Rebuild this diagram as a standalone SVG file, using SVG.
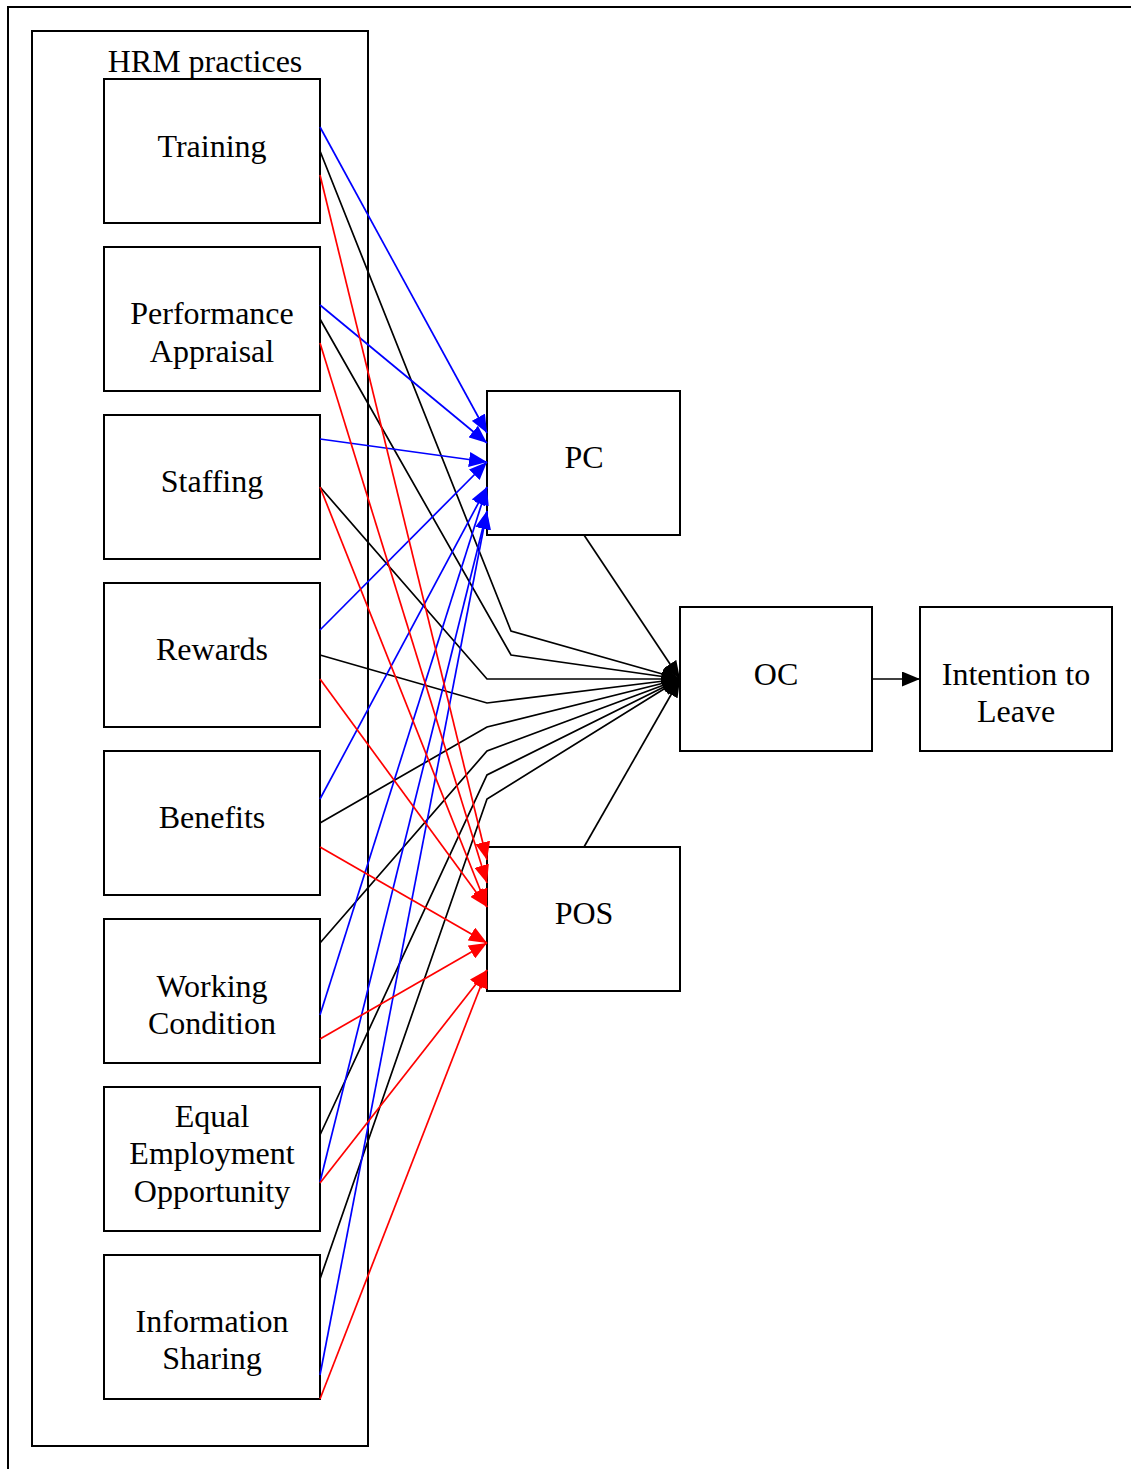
<svg xmlns="http://www.w3.org/2000/svg" width="1131" height="1469" viewBox="0 0 1131 1469">
<style>
.box{fill:#fff;stroke:#000;stroke-width:2}
.txt{font-family:"Liberation Serif","Times New Roman",serif;font-size:32px;fill:#000;text-anchor:middle}
.b{stroke:#0000ff;stroke-width:1.7;fill:none;marker-end:url(#ab)}
.r{stroke:#ff0000;stroke-width:1.7;fill:none;marker-end:url(#ar)}
.k{stroke:#000;stroke-width:1.7;fill:none;marker-end:url(#ak)}
</style>
<defs>
<marker id="ab" markerUnits="userSpaceOnUse" markerWidth="18" markerHeight="15" refX="18" refY="7.5" orient="auto"><path d="M0,0 L18,7.5 L0,15 z" fill="#0000ff"/></marker>
<marker id="ar" markerUnits="userSpaceOnUse" markerWidth="18" markerHeight="15" refX="18" refY="7.5" orient="auto"><path d="M0,0 L18,7.5 L0,15 z" fill="#ff0000"/></marker>
<marker id="ak" markerUnits="userSpaceOnUse" markerWidth="18" markerHeight="15" refX="18" refY="7.5" orient="auto"><path d="M0,0 L18,7.5 L0,15 z" fill="#000"/></marker>
</defs>
<rect width="1131" height="1469" fill="#fff"/>
<g id="frame">
<polyline points="8,1469 8,7 1131,7" fill="none" stroke="#000" stroke-width="2"/>
</g>
<g id="hrm">
<rect x="32" y="31" width="336" height="1415" fill="none" stroke="#000" stroke-width="2"/>
<text class="txt" x="205" y="72">HRM practices</text>
</g>
<g id="training"><rect class="box" x="104" y="79" width="216" height="144"/><text class="txt" x="212" y="157">Training</text></g>
<g id="performance"><rect class="box" x="104" y="247" width="216" height="144"/><text class="txt" x="212" y="324">Performance</text><text class="txt" x="212" y="362">Appraisal</text></g>
<g id="staffing"><rect class="box" x="104" y="415" width="216" height="144"/><text class="txt" x="212" y="492">Staffing</text></g>
<g id="rewards"><rect class="box" x="104" y="583" width="216" height="144"/><text class="txt" x="212" y="660">Rewards</text></g>
<g id="benefits"><rect class="box" x="104" y="751" width="216" height="144"/><text class="txt" x="212" y="828">Benefits</text></g>
<g id="working"><rect class="box" x="104" y="919" width="216" height="144"/><text class="txt" x="212" y="997">Working</text><text class="txt" x="212" y="1034">Condition</text></g>
<g id="equal"><rect class="box" x="104" y="1087" width="216" height="144"/><text class="txt" x="212" y="1127">Equal</text><text class="txt" x="212" y="1164">Employment</text><text class="txt" x="212" y="1202">Opportunity</text></g>
<g id="info"><rect class="box" x="104" y="1255" width="216" height="144"/><text class="txt" x="212" y="1332">Information</text><text class="txt" x="212" y="1369">Sharing</text></g>
<g id="pc"><rect class="box" x="487" y="391" width="193" height="144"/><text class="txt" x="584" y="468">PC</text></g>
<g id="pos"><rect class="box" x="487" y="847" width="193" height="144"/><text class="txt" x="584" y="924">POS</text></g>
<g id="oc"><rect class="box" x="680" y="607" width="192" height="144"/><text class="txt" x="776" y="685">OC</text></g>
<g id="intention"><rect class="box" x="920" y="607" width="192" height="144"/><text class="txt" x="1016" y="685">Intention to</text><text class="txt" x="1016" y="722">Leave</text></g>
<g id="connectors">
<polyline class="k" points="320,151 511,631 680,679"/>
<polyline class="k" points="320,319 511,655 680,679"/>
<polyline class="k" points="320,487 487,679 680,679"/>
<polyline class="k" points="320,655 487,703 680,679"/>
<polyline class="k" points="320,823 487,727 680,679"/>
<polyline class="k" points="320,943 487,751 680,679"/>
<polyline class="k" points="320,1135 487,775 680,679"/>
<polyline class="k" points="320,1279 487,799 680,679"/>
<line class="k" x1="584" y1="535" x2="680" y2="679"/>
<line class="k" x1="584" y1="847" x2="680" y2="679"/>
<line class="k" x1="872" y1="679" x2="920" y2="679"/>
<line class="b" x1="320" y1="127" x2="487" y2="433"/>
<line class="b" x1="320" y1="305" x2="487" y2="443"/>
<line class="b" x1="320" y1="439" x2="487" y2="462"/>
<line class="b" x1="320" y1="630" x2="487" y2="462"/>
<line class="b" x1="320" y1="799" x2="487" y2="487"/>
<line class="b" x1="320" y1="1015" x2="487" y2="487"/>
<line class="b" x1="320" y1="1182" x2="487" y2="511"/>
<line class="b" x1="320" y1="1375" x2="487" y2="511"/>
<line class="r" x1="320" y1="175" x2="487" y2="860"/>
<line class="r" x1="320" y1="343" x2="487" y2="883"/>
<line class="r" x1="320" y1="487" x2="487" y2="907"/>
<line class="r" x1="320" y1="679" x2="487" y2="907"/>
<line class="r" x1="320" y1="847" x2="487" y2="943"/>
<line class="r" x1="320" y1="1039" x2="487" y2="943"/>
<line class="r" x1="320" y1="1183" x2="487" y2="970"/>
<line class="r" x1="320" y1="1399" x2="487" y2="970"/>
</g>
</svg>
